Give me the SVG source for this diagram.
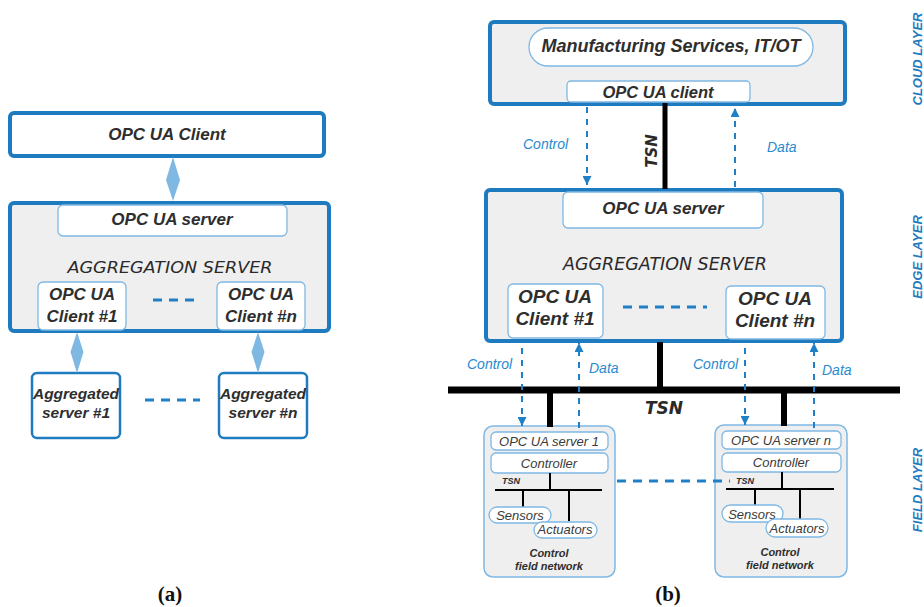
<svg xmlns="http://www.w3.org/2000/svg" width="924" height="607" viewBox="0 0 924 607">
<defs>
<style>
.bigbox{fill:#efefef;stroke:#1f7bbf;stroke-width:4}
.wbox{fill:#ffffff;stroke:#1f7bbf;stroke-width:4}
.inner{fill:#ffffff;stroke:#7fb8e3;stroke-width:1.3}
.agg{fill:#ffffff;stroke:#1f7bbf;stroke-width:2.5}
.field{fill:#efefef;stroke:#7fb8e3;stroke-width:1.5}
.t{font-family:"Liberation Sans",Arial,sans-serif;font-weight:bold;font-style:italic;fill:#2e2e2e;text-anchor:middle}
.tn{font-family:"Liberation Sans",Arial,sans-serif;font-style:italic;fill:#3a3a3a;text-anchor:middle}
.comic{font-family:"DejaVu Sans",sans-serif;font-style:oblique;fill:#2a2a2a;text-anchor:middle}
.lbl{font-family:"Liberation Sans",Arial,sans-serif;font-style:italic;fill:#2a8ad0;font-size:14px}
.layer{font-family:"Liberation Sans",Arial,sans-serif;font-weight:bold;font-style:italic;fill:#1f7bbf;font-size:13px;text-anchor:middle}
.cap{font-family:"Liberation Serif","Times New Roman",serif;font-weight:bold;font-size:21px;fill:#111;text-anchor:middle}
.dash{stroke:#1f80c8;stroke-width:3;stroke-dasharray:9 7;fill:none}
.arr{stroke:#1f80c8;stroke-width:2;stroke-dasharray:6 6;fill:none}
.tsn{stroke:#000;fill:none}
.dia{fill:#7fb8e3}
</style>
<marker id="ah" viewBox="0 0 10 10" refX="10" refY="5" markerWidth="9" markerHeight="9" markerUnits="userSpaceOnUse" orient="auto">
<path d="M0,0 L10,5 L0,10 z" fill="#1f80c8"/>
</marker>
</defs>

<!-- Panel (a) -->
<g id="a-client">
<rect class="wbox" x="10" y="113" width="314" height="43" rx="4"/>
<text class="t" x="167" y="140" font-size="17">OPC UA Client</text>
</g>
<g id="a-aggregation">
<rect class="bigbox" x="10" y="203" width="319" height="128" rx="4"/>
<g id="a-server">
<rect class="inner" x="58" y="205" width="229" height="31" rx="5"/>
<text class="t" x="172" y="225" font-size="17">OPC UA server</text>
</g>
<text class="comic" x="170" y="273" font-size="16" textLength="205" lengthAdjust="spacingAndGlyphs">AGGREGATION SERVER</text>
<g id="a-client1">
<rect class="inner" x="38" y="282" width="88" height="48" rx="5"/>
<text class="t" x="82" y="300" font-size="17">OPC UA</text>
<text class="t" x="82" y="322" font-size="17">Client #1</text>
</g>
<g id="a-clientn">
<rect class="inner" x="217" y="282" width="88" height="48" rx="5"/>
<text class="t" x="261" y="300" font-size="17">OPC UA</text>
<text class="t" x="261" y="322" font-size="17">Client #n</text>
</g>
</g>
<g id="a-agg1">
<rect class="agg" x="32" y="373" width="88" height="65" rx="5"/>
<text class="t" x="76" y="399" font-size="15.5">Aggregated</text>
<text class="t" x="76" y="418" font-size="15.5">server #1</text>
</g>
<g id="a-aggn">
<rect class="agg" x="219" y="373" width="88" height="65" rx="5"/>
<text class="t" x="263" y="399" font-size="15.5">Aggregated</text>
<text class="t" x="263" y="418" font-size="15.5">server #n</text>
</g>
<g id="a-connectors">
<path class="dia" d="M173,157 L180,180 L173,201 L166,180 z"/>
<path class="dia" d="M77,332 L83.5,352 L77,373 L70.5,352 z"/>
<path class="dia" d="M258,332 L264.5,352 L258,373 L251.5,352 z"/>
<line class="dash" x1="153" y1="300" x2="194" y2="300" stroke-dasharray="7 7"/>
<line class="dash" x1="145" y1="400" x2="200" y2="400" stroke-dasharray="7 9"/>
</g>
<text class="cap" x="170" y="601">(a)</text>

<!-- Panel (b) -->
<g id="b-cloud">
<rect class="bigbox" x="490" y="22" width="355" height="82" rx="4"/>
<g id="b-manufacturing">
<rect class="inner" x="529" y="28" width="284" height="38" rx="19"/>
<text class="t" x="671" y="52" font-size="18">Manufacturing Services, IT/OT</text>
</g>
<g id="b-opcclient">
<rect class="inner" x="567" y="81" width="183" height="21" rx="4"/>
<text class="t" x="658" y="98" font-size="16.5">OPC UA client</text>
</g>
</g>
<g id="b-edge">
<rect class="bigbox" x="486" y="190" width="356" height="151" rx="4"/>
<g id="b-server">
<rect class="inner" x="563" y="192" width="200" height="36" rx="5"/>
<text class="t" x="663" y="214" font-size="17">OPC UA server</text>
</g>
<text class="comic" x="665" y="270" font-size="17.5" textLength="204" lengthAdjust="spacingAndGlyphs">AGGREGATION SERVER</text>
<g id="b-client1">
<rect class="inner" x="508" y="284" width="95" height="54" rx="5"/>
<text class="t" x="555" y="303" font-size="19">OPC UA</text>
<text class="t" x="555" y="325" font-size="19">Client #1</text>
</g>
<g id="b-clientn">
<rect class="inner" x="726" y="286" width="99" height="53" rx="5"/>
<text class="t" x="775" y="305" font-size="19">OPC UA</text>
<text class="t" x="775" y="327" font-size="19">Client #n</text>
</g>
</g>

<g id="b-field1">
<rect class="field" x="484" y="426" width="131" height="151" rx="9"/>
<rect class="inner" x="491" y="432" width="117" height="18" rx="5"/>
<text class="tn" x="549" y="446" font-size="13">OPC UA server 1</text>
<rect class="inner" x="491" y="453" width="117" height="20" rx="5"/>
<text class="tn" x="549" y="468" font-size="13">Controller</text>
<text class="t" x="511" y="484" font-size="9">TSN</text>
<path class="tsn" stroke-width="2" d="M550,473 V490 M495,490 H602 M523,490 V507 M569,490 V521"/>
<rect class="inner" x="489" y="507" width="62" height="16" rx="8"/>
<text class="tn" x="520" y="520" font-size="13">Sensors</text>
<rect class="inner" x="534" y="522" width="63" height="16" rx="8"/>
<text class="tn" x="565" y="534" font-size="13">Actuators</text>
<text class="t" x="549" y="557" font-size="11">Control</text>
<text class="t" x="549" y="570" font-size="11">field network</text>
</g>
<g id="b-fieldn">
<rect class="field" x="715" y="425" width="132" height="152" rx="9"/>
<rect class="inner" x="722" y="431" width="119" height="18" rx="5"/>
<text class="tn" x="781" y="445" font-size="13">OPC UA server n</text>
<rect class="inner" x="722" y="453" width="119" height="19" rx="5"/>
<text class="tn" x="781" y="467" font-size="13">Controller</text>
<text class="t" x="745" y="484" font-size="9">TSN</text>
<path class="tsn" stroke-width="2" d="M782,472 V489 M726,489 H834 M755,489 V506 M800,489 V520"/>
<rect class="inner" x="722" y="505" width="61" height="17" rx="8.5"/>
<text class="tn" x="752" y="519" font-size="13">Sensors</text>
<rect class="inner" x="766" y="519" width="62" height="18" rx="9"/>
<text class="tn" x="797" y="533" font-size="13">Actuators</text>
<text class="t" x="780" y="556" font-size="11">Control</text>
<text class="t" x="780" y="569" font-size="11">field network</text>
</g>

<g id="b-connectors">
<line class="tsn" stroke-width="5" x1="665" y1="103" x2="665" y2="189"/>
<text class="comic" font-weight="bold" font-size="15" transform="translate(657,151) rotate(-90)">TSN</text>
<line class="arr" x1="587" y1="107" x2="587" y2="185" marker-end="url(#ah)"/>
<line class="arr" x1="735" y1="187" x2="735" y2="108" marker-end="url(#ah)"/>
<text class="lbl" x="523" y="149">Control</text>
<text class="lbl" x="767" y="152">Data</text>

<line class="tsn" stroke-width="6" x1="660" y1="342" x2="660" y2="390"/>
<line class="tsn" stroke-width="7" x1="448" y1="390" x2="900" y2="390"/>
<line class="tsn" stroke-width="6" x1="550" y1="390" x2="550" y2="427"/>
<line class="tsn" stroke-width="6" x1="784" y1="390" x2="784" y2="426"/>
<text class="comic" font-weight="bold" font-size="17" x="664" y="414">TSN</text>

<line class="arr" x1="522" y1="348" x2="522" y2="426" marker-end="url(#ah)"/>
<line class="arr" x1="579" y1="428" x2="579" y2="343" marker-end="url(#ah)"/>
<line class="arr" x1="745" y1="348" x2="745" y2="425" marker-end="url(#ah)"/>
<line class="arr" x1="814" y1="428" x2="814" y2="343" marker-end="url(#ah)"/>
<text class="lbl" x="467" y="369">Control</text>
<text class="lbl" x="589" y="373">Data</text>
<text class="lbl" x="693" y="369">Control</text>
<text class="lbl" x="822" y="375">Data</text>

<line class="dash" x1="623" y1="307" x2="707" y2="307"/>
<line class="dash" x1="617" y1="481" x2="730" y2="481"/>
</g>

<text class="layer" transform="translate(922,59) rotate(-90)">CLOUD LAYER</text>
<text class="layer" transform="translate(922,257) rotate(-90)">EDGE LAYER</text>
<text class="layer" transform="translate(922,490) rotate(-90)">FIELD LAYER</text>

<text class="cap" x="668" y="601">(b)</text>
</svg>
